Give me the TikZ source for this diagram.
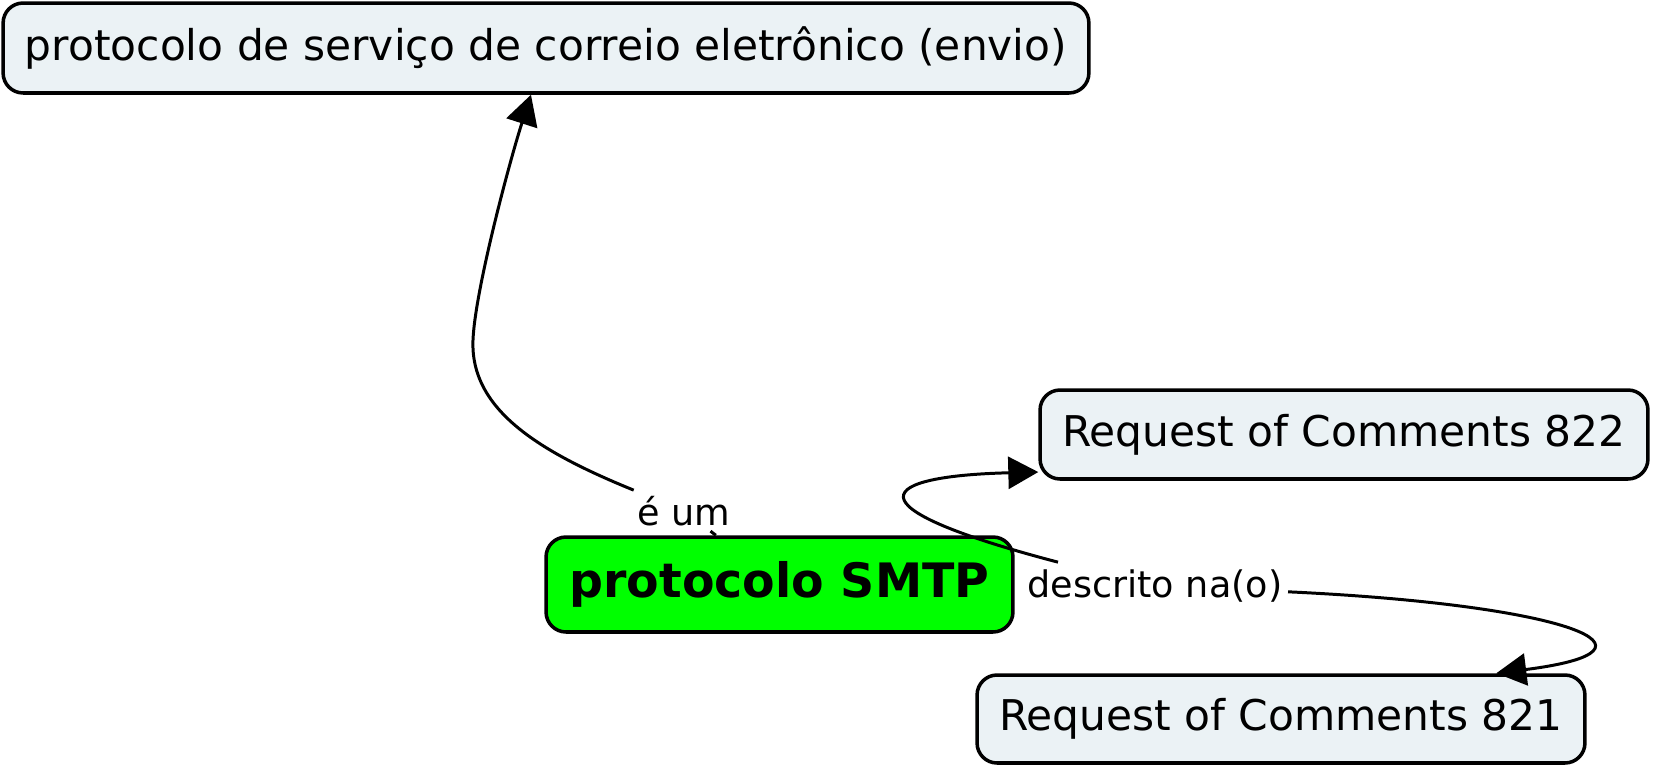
\documentclass[tikz,border=0pt]{standalone}
\usepackage{fontspec}
\setmainfont{DejaVu Sans}
\usetikzlibrary{arrows.meta}
\definecolor{cmapfill}{HTML}{EBF2F5}
\definecolor{cmapgreen}{HTML}{00FF00}

\begin{document}
\begin{tikzpicture}[x=0.02cm,y=-0.02cm,concept/.style={draw,line width=2pt,rounded corners=0.4cm,fill=cmapfill,inner sep=0pt,font=\fontsize{24.1}{28}\selectfont},linkword/.style={fill=white,inner sep=3pt,font=\fontsize{20.8}{24}\selectfont},link/.style={line width=1.7pt},flow/.style={link,-{Triangle[length=0.6cm,width=0.64cm]}}]
\useasboundingbox (0,0) rectangle (1656,771);
\node[linkword,anchor=base] (desc) at (1138,597) {é descrito na(o)};
\node[linkword,anchor=base] (eum) at (684,525) {é um};
\node[concept,minimum width=21.72cm,minimum height=1.8cm] (envio) at (546,48) {protocolo de serviço de correio eletrônico (envio)};
\node[concept,fill=cmapgreen,minimum width=9.34cm,minimum height=1.9cm,font=\fontsize{27}{31}\selectfont\bfseries] (smtp) at (779.5,584.5) {protocolo SMTP};
\node[concept,minimum width=12.16cm,minimum height=1.78cm] (rfc822) at (1344,434.5) {Request of Comments 822};
\node[concept,minimum width=12.16cm,minimum height=1.76cm] (rfc821) at (1281,719) {Request of Comments 821};
\draw[link] (smtp) -- (eum);
\draw[flow] (eum) .. controls (540,452) and (470,410) .. (473,340) .. controls (475,290) and (510,160) .. (envio);
\draw[flow] (desc.north west) ++(70,0) .. controls (840,505) and (880,476) .. (rfc822.187);
\draw[flow] (desc) .. controls (1570,605) and (1680,650) .. (rfc821.12);
\end{tikzpicture}
\end{document}
